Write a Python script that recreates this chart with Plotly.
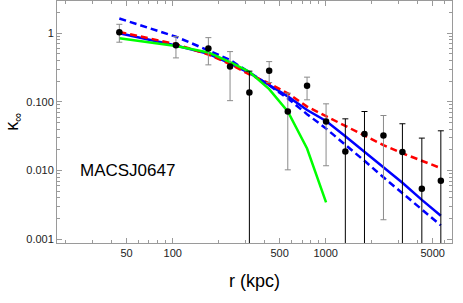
import plotly.graph_objects as go
import numpy as np

# ---- data ----
r_kpc = [44.8, 105, 171, 237, 317, 427, 565, 755, 1005, 1343, 1791, 2383, 3170, 4245, 5650]
kappa = [1.03, 0.668, 0.597, 0.327, 0.137, 0.285, 0.0724, 0.171, 0.0516, 0.0189,
         0.0339, 0.0323, 0.0185, 0.00542, 0.00708]
kappa_hi = [1.35, 0.893, 0.863, 0.54, 0.28, 0.386, 0.134, 0.229, 0.0935, 0.0565,
            0.0723, 0.0632, 0.0479, 0.0296, 0.0378]
# 0 means the lower error bar reaches zero (runs off the log axis)
kappa_lo = [0.74, 0.437, 0.346, 0.104, 0, 0.191, 0.0102, 0.107, 0.0117, 0,
            0, 0.00191, 0, 0, 0]

model_red_dashed = [1.047, 0.692, 0.490, 0.355, 0.251, 0.186, 0.133, 0.0851, 0.0617,
                    0.0447, 0.0324, 0.0234, 0.0178, 0.0138, 0.0108]
model_blue_solid = [1.0, 0.661, 0.501, 0.363, 0.263, 0.178, 0.120, 0.0759, 0.0525,
                    0.0316, 0.0186, 0.0110, 0.00661, 0.00372, 0.00219]
model_blue_dashed = [1.64, 0.891, 0.562, 0.407, 0.269, 0.174, 0.112, 0.0661, 0.0407,
                     0.0240, 0.0138, 0.00794, 0.00462, 0.00269, 0.00158]
model_green = [0.845, 0.653, 0.525, 0.380, 0.275, 0.153, 0.0724, 0.0209, 0.00342]

x_tickvals = [50, 100, 500, 1000, 5000]
x_ticktext = ["50", "100", "500", "1000", "5000"]
y_tickvals = [0.001, 0.01, 0.1, 1]
y_ticktext = ["0.001", "0.010", "0.100", "1"]

# ---- figure ----
fig = go.Figure()

fig.add_trace(go.Scatter(x=r_kpc, y=model_blue_solid, mode="lines",
                         line=dict(color="#0000FF", width=2.5), hoverinfo="skip"))
fig.add_trace(go.Scatter(x=r_kpc, y=model_red_dashed, mode="lines",
                         line=dict(color="#FF0000", width=2.5, dash="7px,4px"), hoverinfo="skip"))
fig.add_trace(go.Scatter(x=r_kpc, y=model_blue_dashed, mode="lines",
                         line=dict(color="#0000FF", width=2.5, dash="7px,4px"), hoverinfo="skip"))
fig.add_trace(go.Scatter(x=r_kpc[:len(model_green)], y=model_green, mode="lines",
                         line=dict(color="#00FF00", width=2.5), hoverinfo="skip"))

k = np.array(kappa)
hi = np.array(kappa_hi)
lo = np.array(kappa_lo)
x = np.array(r_kpc)
open_lo = lo <= 0
lo_eff = np.where(open_lo, 1e-5, lo)

for mask, col in [(~open_lo, "#8a8a8a"), (open_lo, "#000000")]:
    fig.add_trace(go.Scatter(
        x=x[mask], y=k[mask], mode="markers",
        marker=dict(color="black", size=6.5),
        error_y=dict(type="data", symmetric=False,
                     array=(hi - k)[mask], arrayminus=(k - lo_eff)[mask],
                     color=col, thickness=1, width=3),
        hoverinfo="skip"))

axis_common = dict(
    type="log", showgrid=False, zeroline=False, showline=True, automargin=False,
    linecolor="#9a9a9a", linewidth=1, mirror="ticks",
    ticks="inside", ticklen=5, tickcolor="#9a9a9a", tickwidth=1,
    tickfont=dict(family="Liberation Sans, Arial, sans-serif", size=11, color="#222"),
)

x_minor = [v * d for v in [10, 100, 1000] for d in range(2, 10) if v * d not in (50, 500, 5000)]
x_minor = [v for v in x_minor if 17 < v < 6700]
y_minor = [v * d for v in [0.001, 0.01, 0.1, 1] for d in range(2, 10)]
y_minor = [v for v in y_minor if v < 3]

fig.update_xaxes(range=[1.244, 3.825], tickvals=x_tickvals, ticktext=x_ticktext,
                 minor=dict(tickvals=x_minor, ticks="inside", ticklen=3,
                            tickcolor="#9a9a9a", tickwidth=1),
                 **axis_common)
fig.update_yaxes(range=[-3.058, 0.470], tickvals=y_tickvals, ticktext=y_ticktext,
                 minor=dict(tickvals=y_minor, ticks="inside", ticklen=3,
                            tickcolor="#9a9a9a", tickwidth=1),
                 **axis_common)

fig.add_annotation(text="r (kpc)", xref="paper", yref="paper", x=0.5, y=-0.155,
                   xanchor="center", yanchor="middle", showarrow=False,
                   font=dict(family="Liberation Sans, Arial, sans-serif", size=18, color="black"))
fig.add_annotation(text="κ<sub>∞</sub>", xref="paper", yref="paper", x=-0.146, y=0.5,
                   xanchor="left", yanchor="middle", showarrow=False, textangle=-90,
                   font=dict(family="Liberation Sans, Arial, sans-serif", size=18, color="black"))
fig.add_annotation(text="MACSJ0647", xref="paper", yref="paper", x=0.053, y=0.30,
                   xanchor="left", yanchor="middle", showarrow=False,
                   font=dict(family="Liberation Sans, Arial, sans-serif", size=17, color="black"))

fig.update_layout(
    width=463, height=303, showlegend=False,
    margin=dict(l=57, r=11, t=1, b=60),
    paper_bgcolor="white", plot_bgcolor="white",
)

fig.write_html("out.html", config={"displayModeBar": False},
               post_script="document.body.style.margin='0';document.body.style.overflow='hidden';")
